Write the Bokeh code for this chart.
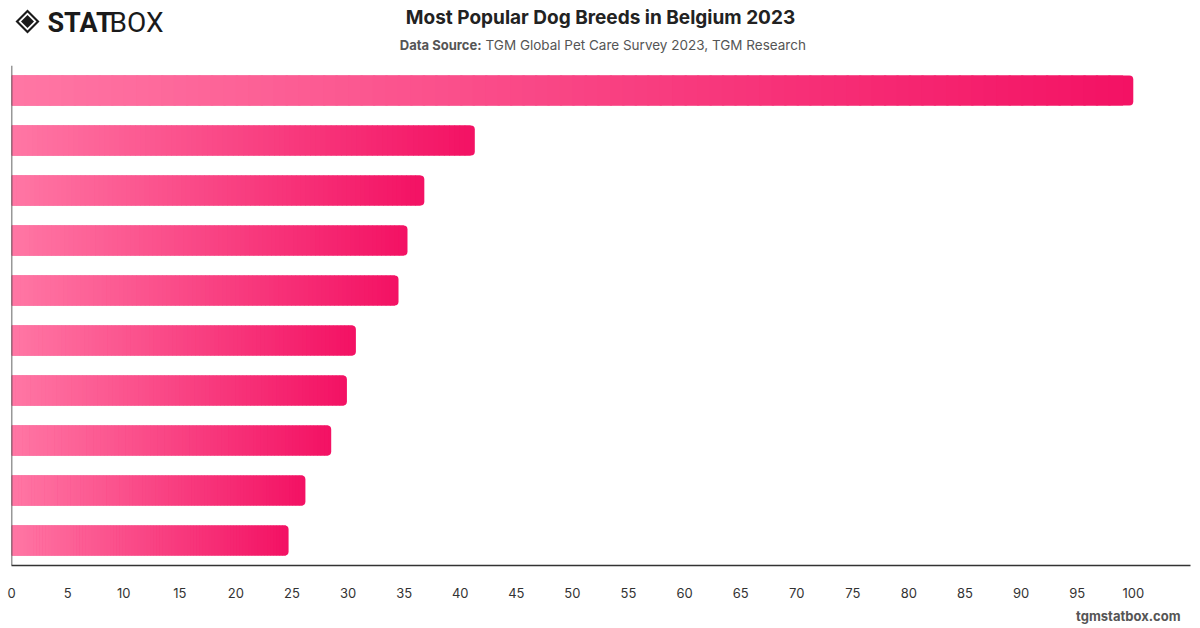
from bokeh.plotting import figure
from bokeh.layouts import column
from bokeh.models import Range1d, Span, FixedTicker, ColumnDataSource
from bokeh.core.properties import value
from bokeh.embed import file_html
from bokeh.resources import INLINE

# Survey results: share index of the ten most popular breeds (top breed = 100)
ranks = [1, 2, 3, 4, 5, 6, 7, 8, 9, 10]
scores = [100, 41.3, 36.8, 35.3, 34.5, 30.7, 29.9, 28.5, 26.2, 24.7]
x_ticks = list(range(0, 101, 5))

TITLE = "Most Popular Dog Breeds in Belgium 2023"
SOURCE_LABEL = "Data Source:"
SOURCE_TEXT = "TGM Global Pet Care Survey 2023, TGM Research"
FOOTER = "tgmstatbox.com"

FONT = "Inter"
START_RGB = (255, 118, 164)
END_RGB = (243, 18, 100)
W = 1200
LEFT_PAD, RIGHT_PAD = 11, 10


def mix(t):
    r = [round(a + (b - a) * t) for a, b in zip(START_RGB, END_RGB)]
    return "#%02x%02x%02x" % tuple(r)


def strip(height):
    # a blank figure whose data coordinates equal page pixels
    f = figure(width=W, height=height, x_range=Range1d(LEFT_PAD, W - RIGHT_PAD),
               y_range=Range1d(height, 0), output_backend="svg", toolbar_location=None,
               min_border=0, min_border_left=LEFT_PAD, min_border_right=RIGHT_PAD)
    f.axis.visible = False
    f.grid.visible = False
    f.outline_line_color = None
    return f


# ---------- header: logo, title, source ----------
HEAD_H = 62
head = strip(HEAD_H)

# diamond logo mark
cx, cy = 27, 21
for r, col in [(12, "#1a1a1a"), (9, "white"), (6.5, "#1a1a1a")]:
    head.patch([cx - r, cx, cx + r, cx], [cy, cy - r, cy, cy + r], fill_color=col, line_color=None)
head.text(x=[47], y=[22], text=["STAT"], text_font=value("Roboto"), text_font_style="bold",
          text_font_size="27px", text_color="#1a1a1a", text_baseline="middle", text_align="left")
head.text(x=[109], y=[22], text=["BOX"], text_font=value("Roboto"), text_font_style="normal",
          text_font_size="28px", text_color="#1a1a1a", text_baseline="middle", text_align="left")

head.text(x=[W / 2], y=[17], text=[TITLE], text_font=value(FONT), text_font_style="bold",
          text_font_size="19px", text_color="#222222", text_baseline="middle", text_align="center")
head.text(x=[481], y=[44], text=[SOURCE_LABEL], text_font=value(FONT), text_font_style="bold",
          text_font_size="13px", text_color="#555555", text_baseline="middle", text_align="right")
head.text(x=[485], y=[44], text=[SOURCE_TEXT], text_font=value(FONT), text_font_style="normal",
          text_font_size="13.5px", text_color="#555555", text_baseline="middle", text_align="left")

# ---------- main bar chart ----------
n = len(ranks)
p = figure(width=W, height=538, x_range=Range1d(0, 105.1), y_range=Range1d(0, n),
           output_backend="svg", toolbar_location=None,
           min_border_left=LEFT_PAD, min_border_right=RIGHT_PAD, min_border_top=3,
           min_border_bottom=35)
p.outline_line_color = None
p.grid.visible = False
p.yaxis.visible = False

centers = [n - r + 0.5 for r in ranks]
BAR_H = 0.6

# solid rounded bar underneath (gives the rounded right end)
p.hbar(y=centers, left=0, right=scores, height=BAR_H, fill_color=mix(1.0), line_color=None,
       border_radius=(0, 4, 4, 0))

# horizontal gradient for each bar, laid over it in thin slices
STEPS = 90
lefts, rights, bottoms, tops, colors = [], [], [], [], []
for c, v in zip(centers, scores):
    for k in range(STEPS - 1):
        lefts.append(v * k / STEPS)
        rights.append(v * (k + 1) / STEPS + v * 0.002)
        bottoms.append(c - BAR_H / 2)
        tops.append(c + BAR_H / 2)
        colors.append(mix(k / (STEPS - 1)))
src = ColumnDataSource(dict(left=lefts, right=rights, bottom=bottoms, top=tops, color=colors))
p.quad(left="left", right="right", bottom="bottom", top="top", fill_color="color",
       line_color=None, source=src)

p.add_layout(Span(location=0, dimension="height", line_color="#333333", line_width=1.5))

ax = p.xaxis[0]
ax.ticker = FixedTicker(ticks=x_ticks)
ax.axis_line_color = "#333333"
ax.axis_line_width = 1.5
ax.major_tick_line_color = None
ax.minor_tick_line_color = None
ax.major_label_text_font = FONT
ax.major_label_text_font_size = "13px"
ax.major_label_text_color = "#333333"
ax.major_label_standoff = 16

# ---------- footer ----------
FOOT_H = 28
foot = strip(FOOT_H)
foot.text(x=[1180], y=[15], text=[FOOTER], text_font=value(FONT), text_font_style="bold",
          text_font_size="13px", text_color="#555555", text_baseline="middle", text_align="right")

layout = column(head, p, foot, spacing=0)
open("out.html", "w").write(file_html(layout, INLINE))
